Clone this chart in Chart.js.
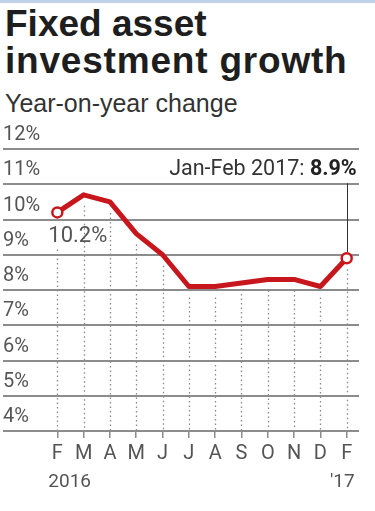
<!DOCTYPE html>
<html><head><meta charset="utf-8">
<script src="https://cdn.jsdelivr.net/npm/chart.js@4.4.1/dist/chart.umd.min.js"></script>
<style>
html,body{margin:0;padding:0;background:#fff;}
#wrap{position:relative;width:375px;height:511px;overflow:hidden;background:#fff;}
#topbar{position:absolute;left:0;top:0;width:375px;height:3px;background:#bfd2ea;}
.t{position:absolute;left:5px;font-family:"Liberation Sans",Arial,sans-serif;color:#1e1e1e;white-space:nowrap;}
#title{top:5px;font-size:37px;line-height:37px;font-weight:bold;}
#title span{letter-spacing:0.8px;}
#sub{top:91px;font-size:25px;line-height:25px;color:#333;}
canvas{position:absolute;left:0;top:0;}
</style></head>
<body><div id="wrap"><div id="topbar"></div>
<div class="t" id="title">Fixed asset<br><span>investment growth</span></div>
<div class="t" id="sub">Year-on-year change</div>
<canvas id="c" width="375" height="511"></canvas></div>
<script>
const months = ["F","M","A","M","J","J","A","S","O","N","D","F"];
const growth = [10.2,10.7,10.5,9.6,9.0,8.1,8.1,8.2,8.3,8.3,8.1,8.9];
const yTickValues = [4,5,6,7,8,9,10,11,12];
const yearLabels = ["2016","'17"];
const firstLabel = "10.2%";
const calloutText = "Jan-Feb 2017: ";
const calloutValue = "8.9%";

const RED = '#c8161d';
const GRID = '#8c8c8c';
const LABEL = '#555555';
const NARROW = 'Roboto, "Liberation Sans", sans-serif';

const points = growth.map((v,i)=>({x:i,y:v}));
const lastIdx = growth.length-1;

const overlay = {
  id:'overlay',
  beforeDatasetsDraw(chart){
    const ctx=chart.ctx, meta=chart.getDatasetMeta(0), area=chart.chartArea;
    ctx.save();
    ctx.strokeStyle='#8a8a8a'; ctx.lineWidth=1.3; ctx.setLineDash([1.5,3]);
    meta.data.forEach((p,i)=>{
      const start = p.y + (i===0 ? 37 : 11);
      const x = Math.round(p.x)+0.5;
      ctx.beginPath(); ctx.moveTo(x,start); ctx.lineTo(x, area.bottom-1); ctx.stroke();
    });
    ctx.setLineDash([]);
    const lp = meta.data[lastIdx];
    ctx.strokeStyle='#333'; ctx.lineWidth=1;
    ctx.beginPath(); ctx.moveTo(Math.round(lp.x)+0.5, lp.y-6); ctx.lineTo(Math.round(lp.x)+0.5, lp.y-75); ctx.stroke();
    ctx.restore();
  },
  afterDatasetsDraw(chart){
    const ctx=chart.ctx, meta=chart.getDatasetMeta(0);
    const p0 = meta.data[0], lp = meta.data[lastIdx];
    ctx.save();
    ctx.textBaseline='alphabetic';
    ctx.fillStyle=LABEL;
    ctx.font='22px '+NARROW;
    ctx.textAlign='left';
    ctx.fillText(firstLabel, p0.x-9, p0.y+30);
    ctx.font='bold 21.5px '+NARROW;
    const wVal = ctx.measureText(calloutValue).width;
    const right = lp.x+10;
    ctx.fillStyle='#222';
    ctx.textAlign='right';
    ctx.fillText(calloutValue, right, lp.y-83);
    ctx.font='21.5px '+NARROW;
    ctx.fillStyle='#333';
    ctx.fillText(calloutText, right-wVal, lp.y-83);
    const xs = chart.scales.x;
    const bottom = chart.chartArea.bottom;
    ctx.font='19px '+NARROW;
    ctx.fillStyle=LABEL;
    ctx.textAlign='left';
    ctx.fillText(yearLabels[0], xs.getPixelForValue(0)-9, bottom+56);
    ctx.textAlign='right';
    ctx.fillText(yearLabels[1], xs.getPixelForValue(lastIdx)+8, bottom+56);
    ctx.restore();
  }
};

new Chart(document.getElementById('c'), {
  type:'line',
  data:{ datasets:[{
    data: points,
    borderColor: RED,
    borderWidth: 5,
    borderJoinStyle:'round',
    borderCapStyle:'round',
    tension:0,
    pointRadius: growth.map((_,i)=> (i===0||i===lastIdx)?5:0),
    pointBackgroundColor:'#ffffff',
    pointBorderColor: RED,
    pointBorderWidth: 2.5,
    clip:false
  }]},
  options:{
    responsive:false,
    animation:false,
    layout:{autoPadding:false, padding:{left:3,right:16,top:149,bottom:0}},
    plugins:{legend:{display:false},tooltip:{enabled:false}},
    scales:{
      x:{
        type:'linear',
        min:-2.065, max:11.468,
        afterBuildTicks(s){ s.ticks = months.map((_,i)=>({value:i})); },
        afterFit(s){ s.height = 80; s.paddingLeft = 0; s.paddingRight = 0; },
        border:{display:false},
        grid:{drawOnChartArea:false, drawTicks:true, tickLength:7, color:GRID, lineWidth:1.5},
        ticks:{autoSkip:false, maxRotation:0, padding:4, color:LABEL,
          font:{family:NARROW, size:20},
          callback:(v)=>months[v]}
      },
      y:{
        min:4, max:12,
        afterBuildTicks(s){ s.ticks = yTickValues.map(v=>({value:v})); },
        afterFit(s){ s.width = 0; s.paddingTop = 0; s.paddingBottom = 0; },
        border:{display:false},
        grid:{color:GRID, lineWidth:2, drawTicks:false},
        ticks:{mirror:true, padding:0, labelOffset:-14, color:LABEL,
          font:{family:NARROW, size:20},
          callback:(v)=>v+'%'}
      }
    }
  },
  plugins:[overlay]
});
</script>
</body></html>
